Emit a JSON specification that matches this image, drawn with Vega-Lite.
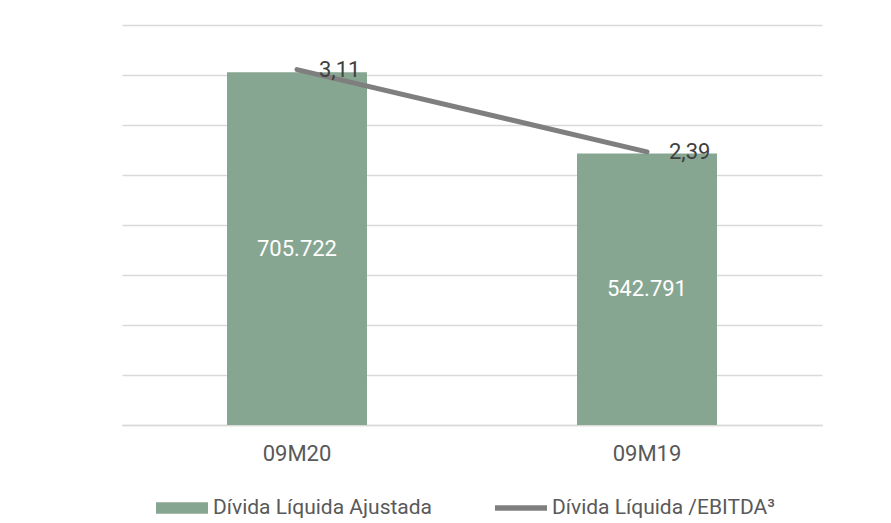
{
  "$schema": "https://vega.github.io/schema/vega-lite/v6.json",
  "width": 700,
  "height": 400,
  "autosize": {"type": "none"},
  "padding": {"left": 122, "top": 25, "right": 69, "bottom": 99},
  "background": "white",
  "data": {"values": [
    {"periodo": "09M20", "divida": 705722, "ratio": 3.11},
    {"periodo": "09M19", "divida": 542791, "ratio": 2.39}
  ]},
  "encoding": {
    "x": {
      "field": "periodo", "type": "nominal", "sort": null,
      "scale": {"paddingInner": 0.6, "paddingOuter": 0.3},
      "axis": {"title": null, "labelAngle": 0, "ticks": false, "domain": true, "domainColor": "#d9d9d9", "domainWidth": 1.5, "labelPadding": 18, "labelFontSize": 22, "labelColor": "#595959", "labelFont": "Roboto, sans-serif"}
    }
  },
  "layer": [
    {
      "mark": {"type": "bar"},
      "encoding": {
        "y": {"field": "divida", "type": "quantitative", "scale": {"domain": [0, 800000]},
          "axis": {"title": null, "grid": true, "labels": false, "ticks": false, "domain": false, "gridColor": "#d9d9d9", "gridWidth": 1.5, "values": [0, 100000, 200000, 300000, 400000, 500000, 600000, 700000, 800000]}},
        "color": {"datum": "Dívida Líquida Ajustada", "type": "nominal",
          "scale": {"domain": ["Dívida Líquida Ajustada", "Dívida Líquida /EBITDA³"], "range": ["#87a692", "#7f7f7f"]},
          "legend": {
            "orient": "none", "legendX": 34, "legendY": 457, "direction": "horizontal", "title": null,
            "labelFont": "Roboto, sans-serif", "labelFontSize": 21, "labelColor": "#595959", "labelLimit": 400,
            "symbolSize": 2704, "symbolType": "M-1,-0.22H1V0.22H-1Z", "labelOffset": 5, "columnPadding": 62,
            "encode": {"symbols": {"update": {
              "shape": {"signal": "datum.value === 'Dívida Líquida Ajustada' ? 'M-1,-0.22H1V0.22H-1Z' : 'M-1,-0.11H1V0.11H-1Z'"},
              "fill": {"scale": "color", "field": "value"},
              "strokeWidth": {"value": 0},
              "opacity": {"value": 1}
            }}}
          }
        }
      }
    },
    {
      "transform": [{"calculate": "datum.divida / 2", "as": "meio"}],
      "mark": {"type": "text", "color": "white", "baseline": "middle", "fontSize": 22, "font": "Roboto, sans-serif"},
      "encoding": {
        "y": {"field": "meio", "type": "quantitative", "scale": {"domain": [0, 800000]}, "axis": null},
        "text": {"field": "divida", "type": "quantitative", "format": ",.0f"}
      }
    },
    {
      "mark": {"type": "line", "strokeWidth": 5, "strokeCap": "round"},
      "encoding": {
        "y": {"field": "ratio", "type": "quantitative", "scale": {"domain": [0, 3.5]}, "axis": null},
        "color": {"datum": "Dívida Líquida /EBITDA³", "type": "nominal"}
      }
    },
    {
      "mark": {"type": "text", "align": "left", "baseline": "middle", "dx": 22, "fontSize": 22, "color": "#404040", "font": "Roboto, sans-serif"},
      "encoding": {
        "y": {"field": "ratio", "type": "quantitative", "scale": {"domain": [0, 3.5]}, "axis": null},
        "text": {"field": "ratio", "type": "quantitative", "format": ".2f"}
      }
    }
  ],
  "resolve": {"scale": {"y": "independent"}},
  "config": {
    "view": {"stroke": null},
    "locale": {"number": {"decimal": ",", "thousands": ".", "grouping": [3], "currency": ["R$", ""]}}
  }
}
